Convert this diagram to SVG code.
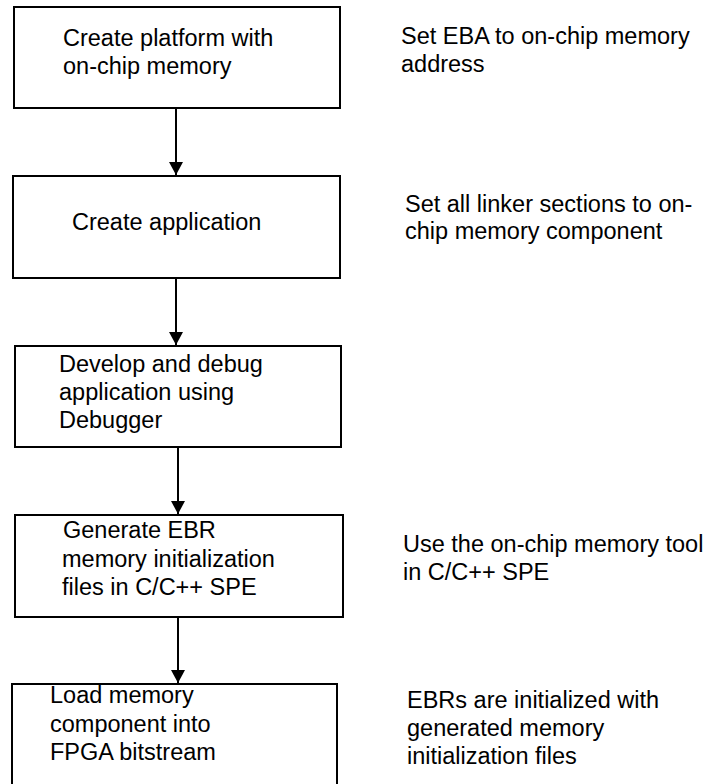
<svg xmlns="http://www.w3.org/2000/svg" width="705" height="784" viewBox="0 0 705 784">
  <style>
    .box { fill: #ffffff; stroke: #000000; stroke-width: 2; }
    .lbl { font-family: "Liberation Sans", Arial, sans-serif; font-size: 23.5px; fill: #000000; }
    .conn { fill: none; stroke: #000000; stroke-width: 2; }
  </style>
  <defs>
    <marker id="arrow" markerUnits="userSpaceOnUse" markerWidth="14" markerHeight="14" refX="13" refY="7" orient="auto">
      <path d="M0,0 L13,7 L0,14 Z" fill="#000000"/>
    </marker>
  </defs>
  <rect width="705" height="784" fill="#ffffff"/>

  <g id="node-create-platform">
    <rect class="box" x="14" y="7" width="326" height="101"/>
    <text class="lbl" x="63" y="46">Create platform with</text>
    <text class="lbl" x="63" y="74">on-chip memory</text>
  </g>
  <g id="node-create-application">
    <rect class="box" x="13" y="176" width="327" height="102"/>
    <text class="lbl" x="72" y="230">Create application</text>
  </g>
  <g id="node-develop-debug">
    <rect class="box" x="15" y="346" width="326" height="101"/>
    <text class="lbl" x="59" y="372">Develop and debug</text>
    <text class="lbl" x="59" y="400">application using</text>
    <text class="lbl" x="59" y="428">Debugger</text>
  </g>
  <g id="node-generate-ebr">
    <rect class="box" x="15" y="515" width="328" height="102"/>
    <text class="lbl" x="63" y="538">Generate EBR</text>
    <text class="lbl" x="62" y="567">memory initialization</text>
    <text class="lbl" x="62" y="595">files in C/C++ SPE</text>
  </g>
  <g id="node-load-memory">
    <rect class="box" x="12" y="684" width="325" height="120"/>
    <text class="lbl" x="50" y="703">Load memory</text>
    <text class="lbl" x="50" y="732">component into</text>
    <text class="lbl" x="50" y="760">FPGA bitstream</text>
  </g>

  <g id="note-eba">
    <text class="lbl" x="401" y="44">Set EBA to on-chip memory</text>
    <text class="lbl" x="401" y="72">address</text>
  </g>
  <g id="note-linker">
    <text class="lbl" x="405" y="212">Set all linker sections to on-</text>
    <text class="lbl" x="405" y="239">chip memory component</text>
  </g>
  <g id="note-tool">
    <text class="lbl" x="403" y="552">Use the on-chip memory tool</text>
    <text class="lbl" x="403" y="580">in C/C++ SPE</text>
  </g>
  <g id="note-ebrs">
    <text class="lbl" x="407" y="708">EBRs are initialized with</text>
    <text class="lbl" x="407" y="736">generated memory</text>
    <text class="lbl" x="407" y="764">initialization files</text>
  </g>

  <g id="connectors">
    <path class="conn" d="M176,108 L176,175" marker-end="url(#arrow)"/>
    <path class="conn" d="M176,278 L176,345" marker-end="url(#arrow)"/>
    <path class="conn" d="M178,447 L178,514" marker-end="url(#arrow)"/>
    <path class="conn" d="M178,617 L178,683" marker-end="url(#arrow)"/>
  </g>
</svg>
